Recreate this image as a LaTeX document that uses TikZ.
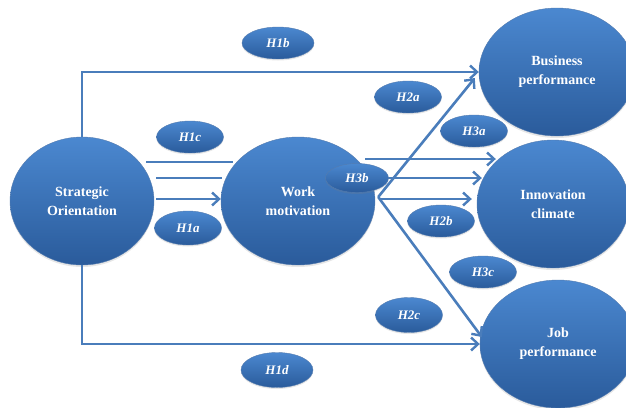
\documentclass[tikz,border=0pt]{standalone}
\usepackage{fontspec}
\setmainfont{Liberation Serif}
\usetikzlibrary{arrows.meta}
\usetikzlibrary{shapes.geometric}
\usetikzlibrary{shadows}

\definecolor{blobtop}{HTML}{4B88D0}
\definecolor{blobbot}{HTML}{2A5B9B}
\definecolor{linkblue}{HTML}{4A7DBB}

\tikzset{
    blob/.style={ellipse, minimum height=128pt, inner sep=0pt, align=center,
        top color=blobtop, bottom color=blobbot, draw=blobbot!80!white, line width=0.4pt,
        text=white, font=\fontsize{14}{19}\selectfont\bfseries,
        drop shadow={shadow xshift=0pt, shadow yshift=-2pt, opacity=0.2}},
    hyp/.style={ellipse, minimum width=67pt, minimum height=32pt, inner sep=0pt,
        top color=blobtop, bottom color=blobbot, draw=blobbot!80!white, line width=0.4pt,
        text=white, font=\fontsize{13}{14}\selectfont\bfseries\itshape,
        drop shadow={shadow xshift=0pt, shadow yshift=-1.5pt, opacity=0.2}},
    link/.style={draw=linkblue, line width=2.6pt},
    arr/.style={link, -{Straight Barb[length=7pt,width=13pt,line width=2.4pt]}},
}

\begin{document}
\begin{tikzpicture}[x=1pt, y=-1pt]
        \useasboundingbox (0,0) rectangle (626,407);
        \clip (0,0) rectangle (626,407);
        % constructs
        \node[blob, minimum width=144pt] (so) at (82,201) {Strategic\\Orientation};
        \node[blob, minimum width=154pt] (wm) at (298,201) {Work\\motivation};
        \node[blob, minimum width=156pt] (bp) at (557,72) {Business\\performance};
        \node[blob, minimum width=152pt] (ic) at (553,204) {Innovation\\climate};
        \node[blob, minimum width=156pt] (jp) at (558,344) {Job\\performance};
        % paths
        \draw[arr] (so.north) |- (bp.west);
        \draw[arr] (so.south) |- (jp.west);
        \draw[link] ([shift={(-8,-39)}]so.east) -- ([shift={(12,-39)}]wm.west);
        \draw[link] ([shift={(2,-23)}]so.east) -- ([shift={(1,-23)}]wm.west);
        \draw[arr] ([shift={(2,-2)}]so.east) -- ([shift={(0,-2)}]wm.west);
        \draw[arr] ([shift={(-10,-42)}]wm.east) -- ([shift={(19,-45)}]ic.west);
        \draw[arr] ([shift={(1,-23)}]wm.east) -- ([shift={(5,-26)}]ic.west);
        \draw[arr] ([shift={(5,-2)}]wm.east) -- ([shift={(-5,-5)}]ic.west);
        \draw[arr] ([shift={(3,-4)}]wm.east) -- ([shift={(-4,6)}]bp.west);
        \draw[arr] ([shift={(3,-4)}]wm.east) -- ([shift={(2,-7)}]jp.west);
        % hypotheses
        \node[hyp, minimum width=72pt] (h1b) at (278,43) {H1b};
        \node[hyp] (h2a) at (408,97) {H2a};
        \node[hyp] (h1c) at (190,137) {H1c};
        \node[hyp] (h3a) at (474,131) {H3a};
        \node[hyp, minimum width=63pt, minimum height=29pt] (h3b) at (357,178) {H3b};
        \node[hyp, minimum height=34pt] (h1a) at (188,228) {H1a};
        \node[hyp] (h2b) at (441,221) {H2b};
        \node[hyp] (h3c) at (483,272) {H3c};
        \node[hyp, minimum height=35pt] (h2c) at (409,315) {H2c};
        \node[hyp, minimum width=72pt, minimum height=35pt] (h1d) at (277,370) {H1d};
\end{tikzpicture}
\end{document}
